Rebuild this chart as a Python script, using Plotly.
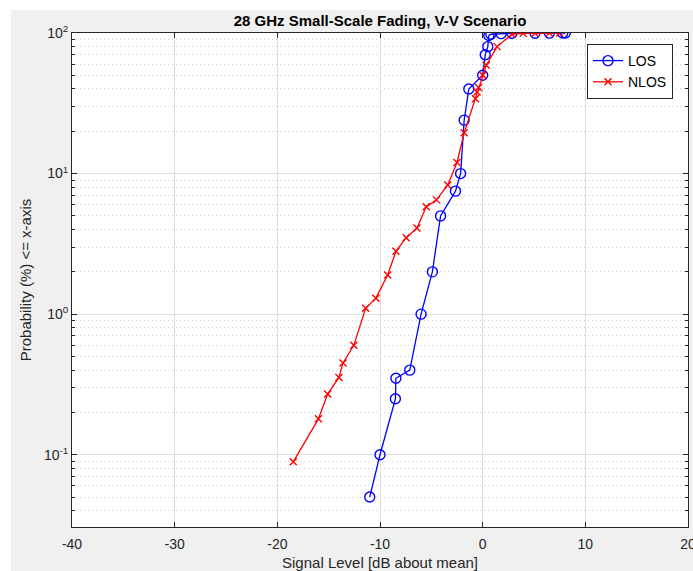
import plotly.graph_objects as go

# ---- data ----
los_x = [-11.0, -10.0, -8.5, -8.45, -7.1, -6.0, -4.9, -4.1, -2.65, -2.15, -1.8, -1.35,
         0.0, 0.25, 0.5, 0.6, 0.8, 1.8, 2.85, 5.1, 6.5, 7.8, 8.05]
los_y = [0.05, 0.1, 0.25, 0.35, 0.4, 1.0, 2.0, 5.0, 7.5, 10, 24, 40,
         50, 70, 80, 96, 98, 99, 99.5, 99.7, 99.8, 99.9, 100]

nlos_x = [-18.45, -16.0, -15.1, -14.0, -13.6, -12.55, -11.4, -10.4, -9.25, -8.45, -7.45,
          -6.4, -5.5, -4.5, -3.4, -2.5, -1.8, -0.7, -0.55, -0.4, 0.0, 0.35, 1.4,
          2.85, 3.95, 5.1, 6.5, 7.5]
nlos_y = [0.089, 0.18, 0.27, 0.355, 0.45, 0.6, 1.1, 1.3, 1.9, 2.8, 3.5,
          4.1, 5.8, 6.5, 8.3, 12, 19.5, 34, 38, 41, 50, 59, 80,
          98, 99.5, 99.7, 99.8, 99.9]

x_ticks = [-40, -30, -20, -10, 0, 10, 20]
y_ticks = [0.1, 1, 10, 100]
y_ticktext = ["10<sup>-1</sup>", "10<sup>0</sup>", "10<sup>1</sup>", "10<sup>2</sup>"]

title_text = "28 GHz Small-Scale Fading, V-V Scenario"
x_label = "Signal Level [dB about mean]"
y_label = "Probability (%) <= x-axis"

FONT = "Liberation Sans, Arial, Helvetica, sans-serif"
AX = "#262626"

fig = go.Figure()
fig.add_trace(go.Scatter(
    x=los_x, y=los_y, mode="lines+markers", name="LOS",
    line=dict(color="#0000ff", width=1.3),
    marker=dict(symbol="circle-open", size=10, color="#0000ff", line=dict(width=1.4)),
))
fig.add_trace(go.Scatter(
    x=nlos_x, y=nlos_y, mode="lines+markers", name="NLOS",
    line=dict(color="#ff0000", width=1.3),
    marker=dict(symbol="x-thin-open", size=7, color="#ff0000", line=dict(width=1.4, color="#ff0000")),
))

L, R, T, B = 72, 5, 33, 44
W, H = 693, 571
pw, ph = W - L - R, H - T - B

def px(xp):
    return (xp - L) / pw

def py(yp):
    return (H - B - yp) / ph

fig.update_layout(
    width=W, height=H,
    margin=dict(l=L, r=R, t=T, b=B, pad=0, autoexpand=False),
    paper_bgcolor="#f0f0f0",
    plot_bgcolor="#ffffff",
    font=dict(family=FONT, size=14, color=AX),
    title=dict(text="<b>" + title_text + "</b>", x=0.5, xref="paper", xanchor="center",
               y=1 - 21 / H, yref="container", yanchor="middle",
               font=dict(family=FONT, size=15, color="#000000")),
    showlegend=True,
    legend=dict(x=px(587), y=py(44), xanchor="left", yanchor="top",
                bgcolor="#ffffff", bordercolor=AX, borderwidth=1,
                font=dict(family=FONT, size=14, color="#000000"),
                tracegroupgap=0, itemwidth=30),
    shapes=[
        dict(type="rect", xref="paper", yref="paper", x0=px(-2), x1=px(W + 2), y0=py(10), y1=py(-2),
             fillcolor="#ffffff", line=dict(width=0), layer="below"),
        dict(type="rect", xref="paper", yref="paper", x0=px(-2), x1=px(11), y0=py(H + 2), y1=py(-2),
             fillcolor="#ffffff", line=dict(width=0), layer="below"),
    ],
)

fig.update_xaxes(
    range=[-40, 20], tickvals=x_ticks, ticktext=[str(v) for v in x_ticks],
    showgrid=True, gridcolor="#dedede", gridwidth=1, zeroline=False,
    showline=True, linecolor=AX, linewidth=1, mirror="ticks",
    ticks="inside", ticklen=5, tickcolor=AX, tickwidth=1,
    ticklabeloverflow="allow", automargin=False, ticklabelstandoff=4,
    tickfont=dict(family=FONT, size=14, color=AX),
    title=dict(text=x_label, font=dict(family=FONT, size=15, color=AX), standoff=6),
)

fig.update_yaxes(
    type="log", range=[-1.514, 2], tickvals=y_ticks, ticktext=y_ticktext,
    showgrid=True, gridcolor="#dedede", gridwidth=1, zeroline=False,
    showline=True, linecolor=AX, linewidth=1, mirror="allticks",
    ticks="inside", ticklen=5, tickcolor=AX, tickwidth=1,
    ticklabeloverflow="allow", automargin=False,
    tickfont=dict(family=FONT, size=14, color=AX),
    minor=dict(dtick="D1", showgrid=True, gridcolor="#cfcfcf", griddash="1px,3px", gridwidth=1,
               ticks="inside", ticklen=3, tickcolor=AX),
    title=dict(text=y_label, font=dict(family=FONT, size=15, color=AX), standoff=8),
)

fig.write_html("out.html")
